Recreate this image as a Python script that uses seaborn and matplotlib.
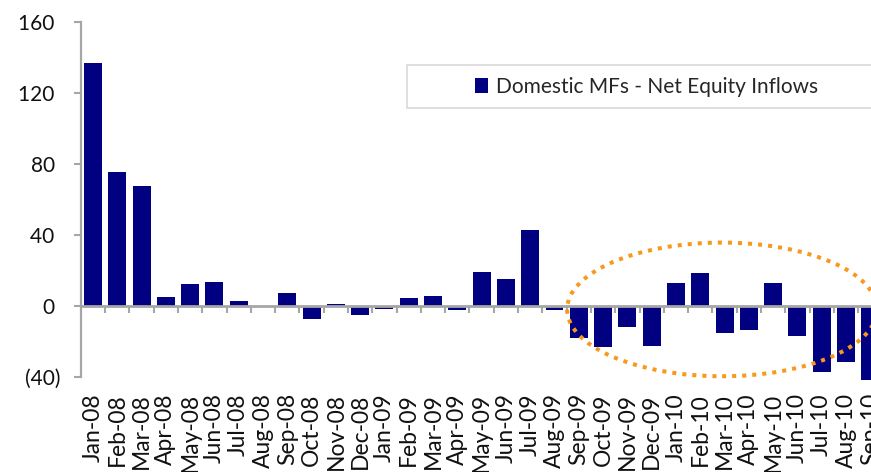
import matplotlib
matplotlib.use("Agg")
import matplotlib.pyplot as plt
import seaborn as sns
from matplotlib.patches import Ellipse, Rectangle
from matplotlib.ticker import FixedLocator, FuncFormatter

# Monthly net equity inflows of domestic mutual funds
months = ["Jan-08", "Feb-08", "Mar-08", "Apr-08", "May-08", "Jun-08", "Jul-08",
          "Aug-08", "Sep-08", "Oct-08", "Nov-08", "Dec-08",
          "Jan-09", "Feb-09", "Mar-09", "Apr-09", "May-09", "Jun-09", "Jul-09",
          "Aug-09", "Sep-09", "Oct-09", "Nov-09", "Dec-09",
          "Jan-10", "Feb-10", "Mar-10", "Apr-10", "May-10", "Jun-10", "Jul-10",
          "Aug-10", "Sep-10"]
inflows = [137, 75.5, 67.5, 4.9, 12, 13.5, 2.4, -1, 7.3, -7.4, 1.1, -5.1,
           -1.7, 4.1, 5.7, -2.7, 19, 15.1, 42.5, -2.5, -18.3, -23.2, -12.1, -22.5,
           12.8, 18.3, -15.3, -13.6, 12.8, -16.8, -37.2, -31.7, -42]
y_ticks = [-40, 0, 40, 80, 120, 160]
series_name = "Domestic MFs - Net Equity Inflows"

NAVY = "#000080"
AXIS_GREY = "#A6A6A6"
ORANGE = "#F7991C"

sns.set_style("white")
plt.rcParams["font.family"] = ["Lato", "DejaVu Sans"]

W, H = 871, 472
fig = plt.figure(figsize=(W / 100, H / 100), dpi=100)
ax = fig.add_axes([80.85 / W, 1 - 376.7 / H, (882.4 - 80.85) / W, (376.7 - 21.7) / H])

sns.barplot(x=months, y=inflows, color=NAVY, saturation=1, width=0.74,
            linewidth=0, ax=ax, label=series_name, legend=False)
for bar in ax.patches:
    bar.set_clip_on(False)

ax.set_xlim(-0.5, len(months) - 0.5)
ax.set_ylim(y_ticks[0], y_ticks[-1])

# Axis styling: zero line carries the category separators
for side in ("top", "right"):
    ax.spines[side].set_visible(False)
ax.spines["left"].set_color(AXIS_GREY)
ax.spines["left"].set_linewidth(1.6)
ax.spines["bottom"].set_position(("data", 0))
ax.spines["bottom"].set_color(AXIS_GREY)
ax.spines["bottom"].set_linewidth(2)

ax.yaxis.set_major_locator(FixedLocator(y_ticks))
ax.yaxis.set_major_formatter(FuncFormatter(
    lambda v, _: f"({abs(v):.0f})" if v < 0 else f"{v:.0f} "))
ax.tick_params(axis="y", which="major", direction="out", length=5, width=1.5,
               color=AXIS_GREY, labelsize=15, labelcolor="#111111", pad=10, left=True)

ax.xaxis.set_minor_locator(FixedLocator([i + 0.5 for i in range(len(months) - 1)]))
ax.tick_params(axis="x", which="minor", direction="out", length=5, width=1.5,
               color=AXIS_GREY, bottom=True)
ax.tick_params(axis="x", which="major", length=0, labelsize=16.5,
               labelcolor="#111111", pad=63, labelrotation=90)
ax.set_xlabel("")
ax.set_ylabel("")

# Dotted ellipse highlighting the outflow period
ax.add_patch(Ellipse((25.9, -2.1), width=12.76, height=75.3, fill=False,
                     edgecolor=ORANGE, linewidth=2.9, linestyle=(0, (1, 1.5)),
                     clip_on=False, zorder=5))

# Legend with an Excel-style frame
fig.patches.append(Rectangle((407 / W, 1 - 108 / H), (890 - 407) / W, 43 / H,
                             transform=fig.transFigure, facecolor="white",
                             edgecolor="#D9D9D9", linewidth=1.2, zorder=3))
leg = fig.legend(handles=ax.patches[:1], labels=[series_name],
                 loc="center left", bbox_to_anchor=(475 / W, 1 - 87 / H),
                 frameon=False, fontsize=15, handlelength=0.62, handleheight=0.72,
                 handletextpad=0.4, borderpad=0, borderaxespad=0)
leg.set_zorder(4)

fig.savefig("out.png", dpi=100)
